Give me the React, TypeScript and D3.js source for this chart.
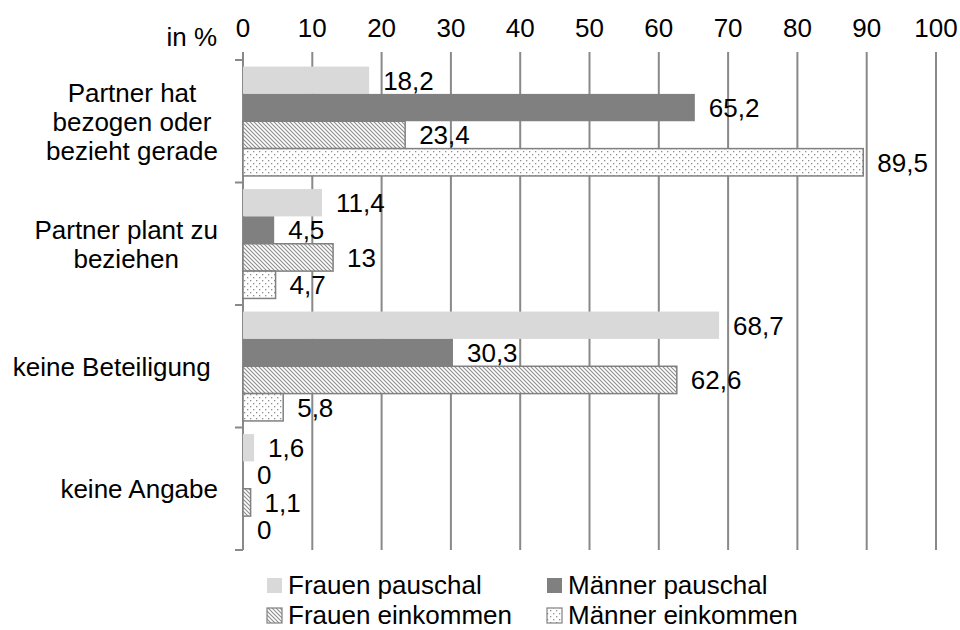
import React, { useEffect, useRef } from "react";
import * as d3 from "d3";

// category labels, already split into lines like the original
const categoryLines = [
  ["Partner hat", "bezogen oder", "bezieht gerade"],
  ["Partner plant zu", "beziehen"],
  ["keine Beteiligung "],
  ["keine Angabe"],
];

const seriesNames = [
  "Frauen pauschal",
  "Männer pauschal",
  "Frauen einkommen",
  "Männer einkommen",
];

const frauenPauschal = [18.2, 11.4, 68.7, 1.6];
const maennerPauschal = [65.2, 4.5, 30.3, 0];
const frauenEinkommen = [23.4, 13, 62.6, 1.1];
const maennerEinkommen = [89.5, 4.7, 5.8, 0];

const xTicks = [0, 10, 20, 30, 40, 50, 60, 70, 80, 90, 100];

const App = () => {
  const svgRef = useRef<SVGSVGElement>(null);

  useEffect(() => {
    const svg = d3.select(svgRef.current);
    svg.selectAll("*").remove();

    const height = 630;
    const margin = { top: 60, right: 24, bottom: 80, left: 243 };
    const font = "'Liberation Sans', Arial, sans-serif";
    const fontSize = 26;
    const gridColor = "#898989";

    const values = [frauenPauschal, maennerPauschal, frauenEinkommen, maennerEinkommen];
    const fills = ["#d9d9d9", "#808080", "url(#hatch)", "url(#dots)"];
    const outlined = [false, false, true, true];

    const x = d3.scaleLinear().domain([0, 100]).range([margin.left, 936]);
    const y = d3
      .scaleBand<number>()
      .domain(d3.range(categoryLines.length))
      .range([margin.top, height - margin.bottom])
      .padding(0);
    const ySeries = d3
      .scaleBand<number>()
      .domain(d3.range(seriesNames.length))
      .range([0, y.bandwidth()])
      .paddingInner(0)
      .paddingOuter(0.24);

    // patterns
    const defs = svg.append("defs");
    const hatch = defs
      .append("pattern")
      .attr("id", "hatch")
      .attr("patternUnits", "userSpaceOnUse")
      .attr("width", 4)
      .attr("height", 4);
    hatch.append("rect").attr("width", 4).attr("height", 4).attr("fill", "#fff");
    hatch
      .append("path")
      .attr("d", "M0,0 L4,4 M-1,3 L1,5 M3,-1 L5,1")
      .attr("stroke", "#8c8c8c")
      .attr("stroke-width", 1.1);

    const dots = defs
      .append("pattern")
      .attr("id", "dots")
      .attr("patternUnits", "userSpaceOnUse")
      .attr("width", 6)
      .attr("height", 6);
    dots.append("rect").attr("width", 6).attr("height", 6).attr("fill", "#fff");
    dots.append("rect").attr("x", 1).attr("y", 1).attr("width", 1.3).attr("height", 1.3).attr("fill", "#8e8e8e");
    dots.append("rect").attr("x", 4).attr("y", 4).attr("width", 1.3).attr("height", 1.3).attr("fill", "#8e8e8e");

    // vertical grid lines, extending above the plot like the top axis ticks
    const yTop = margin.top - 8;
    const yBottom = height - margin.bottom;
    svg
      .append("g")
      .selectAll("line")
      .data(xTicks)
      .join("line")
      .attr("x1", (d) => x(d))
      .attr("x2", (d) => x(d))
      .attr("y1", yTop)
      .attr("y2", yBottom)
      .attr("stroke", gridColor)
      .attr("stroke-width", 2);

    // category tick marks on the left axis
    svg
      .append("g")
      .selectAll("line")
      .data(d3.range(categoryLines.length + 1))
      .join("line")
      .attr("x1", margin.left - 8)
      .attr("x2", margin.left)
      .attr("y1", (d) => margin.top + d * y.step())
      .attr("y2", (d) => margin.top + d * y.step())
      .attr("stroke", gridColor)
      .attr("stroke-width", 2);

    // x tick labels
    svg
      .append("g")
      .selectAll("text")
      .data(xTicks)
      .join("text")
      .attr("x", (d) => x(d))
      .attr("y", 37)
      .attr("text-anchor", "middle")
      .attr("font-family", font)
      .attr("font-size", fontSize)
      .text((d) => d);

    svg
      .append("text")
      .attr("x", 217)
      .attr("y", 46)
      .attr("text-anchor", "end")
      .attr("font-family", font)
      .attr("font-size", fontSize)
      .text("in %");

    // bars
    values.forEach((series, si) => {
      const g = svg.append("g");
      g.selectAll("rect")
        .data(series.map((v, ci) => ({ v, ci })).filter((d) => d.v > 0))
        .join("rect")
        .attr("x", x(0))
        .attr("y", (d) => (y(d.ci) as number) + (ySeries(si) as number))
        .attr("width", (d) => x(d.v) - x(0))
        .attr("height", ySeries.bandwidth())
        .attr("fill", fills[si])
        .attr("stroke", outlined[si] ? "#808080" : "none")
        .attr("stroke-width", outlined[si] ? 1.5 : 0);

      g.selectAll("text")
        .data(series.map((v, ci) => ({ v, ci })))
        .join("text")
        .attr("x", (d) => x(d.v) + 14)
        .attr("y", (d) => (y(d.ci) as number) + (ySeries(si) as number) + ySeries.bandwidth() / 2)
        .attr("dy", "0.36em")
        .attr("font-family", font)
        .attr("font-size", fontSize)
        .text((d) => String(d.v).replace(".", ","));
    });

    // category labels: lines centred on each other, block right-aligned
    const labelRight = 218;
    const lineHeight = 29;
    categoryLines.forEach((lines, ci) => {
      const g = svg.append("g");
      const cy = (y(ci) as number) + y.bandwidth() / 2;
      const texts = g
        .selectAll("text")
        .data(lines)
        .join("text")
        .attr("y", (d, i) => cy + (i - (lines.length - 1) / 2) * lineHeight)
        .attr("dy", "0.36em")
        .attr("text-anchor", "middle")
        .attr("font-family", font)
        .attr("font-size", fontSize)
        .style("white-space", "pre")
        .text((d) => d);
      let maxW = 0;
      texts.each(function () {
        maxW = Math.max(maxW, (this as SVGTextElement).getComputedTextLength());
      });
      texts.attr("x", labelRight - maxW / 2);
    });

    // legend
    const legendCols = [267, 547];
    const legendRows = [585, 615];
    seriesNames.forEach((name, si) => {
      const lx = legendCols[si % 2];
      const ly = legendRows[Math.floor(si / 2)];
      svg
        .append("rect")
        .attr("x", lx)
        .attr("y", ly - 7)
        .attr("width", 15)
        .attr("height", 15)
        .attr("fill", fills[si])
        .attr("stroke", outlined[si] ? "#808080" : "none")
        .attr("stroke-width", outlined[si] ? 1.2 : 0);
      svg
        .append("text")
        .attr("x", lx + 21)
        .attr("y", ly)
        .attr("dy", "0.36em")
        .attr("font-family", font)
        .attr("font-size", fontSize)
        .text(name);
    });
  }, []);

  return (
    <svg
      ref={svgRef}
      width={960}
      height={630}
      style={{ position: "absolute", left: 0, top: 0, background: "#fff" }}
    />
  );
};

export default App;
